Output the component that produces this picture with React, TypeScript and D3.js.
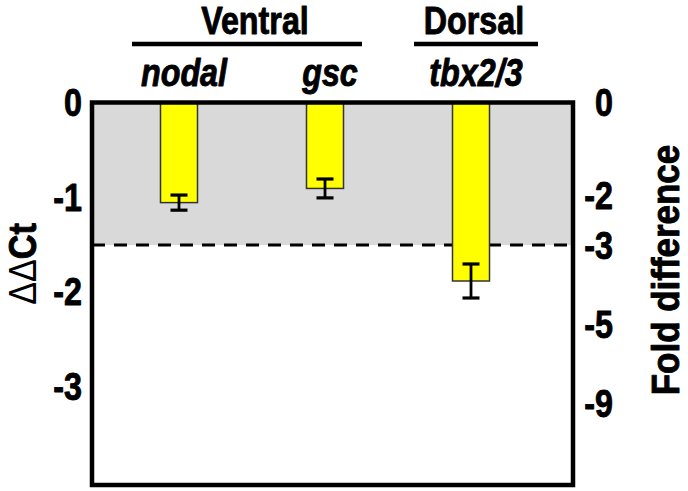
import React from "react";
import * as d3 from "d3";

// ---- data ----
const categories = ["nodal", "gsc", "tbx2/3"];
const meanDdct = [-1.06, -0.91, -1.89];
const errDdct = [0.08, 0.1, 0.18];
const leftTicks = [0, -1, -2, -3];
const foldLabels = ["0", "-2", "-3", "-5", "-9"];
const foldTickDdct = [0, -0.98, -1.51, -2.35, -3.18];
const thresholdDdct = -1.51;
const groupNames = ["Ventral", "Dorsal"];
const groupMembers = [["nodal", "gsc"], ["tbx2/3"]];
const rightTitle = "Fold difference";

// ---- layout ----
const W = 688;
const H = 491;
const frame = { left: 92, right: 573, top: 102.5, bottom: 485 };
const FONT = "'Liberation Sans', Arial, Helvetica, sans-serif";
const FS = 38;
const SQ = 0.85;
const groupPad = [
  [47, 37],
  [57, 67],
];

type TProps = {
  x: number;
  y: number;
  text?: string;
  anchor?: "start" | "middle" | "end";
  rotate?: number;
  sx?: number;
  italic?: boolean;
  size?: number;
  children?: React.ReactNode;
};

function CText({ x, y, text, anchor = "middle", rotate = 0, sx = SQ, italic = false, size = FS, children }: TProps) {
  return (
    <text
      transform={`translate(${x},${y}) rotate(${rotate}) scale(${sx},1)`}
      textAnchor={anchor}
      fontFamily={FONT}
      fontWeight="bold"
      fontStyle={italic ? "italic" : "normal"}
      fontSize={size}
      fill="#000"
      stroke="#000"
      strokeWidth={0.9}
      strokeLinejoin="round"
    >
      {children ?? text}
    </text>
  );
}

export default function App() {
  const x = d3
    .scaleBand<string>()
    .domain(categories)
    .range([160.5, 489.5])
    .paddingInner(1 - 37 / 146)
    .paddingOuter(0);
  const y = d3.scaleLinear().domain([0, -4.05]).range([frame.top, frame.bottom]);
  const bw = x.bandwidth();
  const cx = (c: string) => (x(c) as number) + bw / 2;
  const capW = 17;

  return (
    <svg width={W} height={H} style={{ position: "absolute", left: 0, top: 0, background: "#fff" }}>
      <rect x={0} y={0} width={W} height={H} fill="#fff" />
      {/* shaded region */}
      <rect
        x={frame.left}
        y={y(0)}
        width={frame.right - frame.left}
        height={y(thresholdDdct) - y(0)}
        fill="#d9d9d9"
      />
      {/* threshold dashed line */}
      <line
        x1={frame.left}
        x2={frame.right}
        y1={y(thresholdDdct)}
        y2={y(thresholdDdct)}
        stroke="#000"
        strokeWidth={3}
        strokeDasharray="13 9"
      />
      {/* bars */}
      {categories.map((c, i) => (
        <rect
          key={c}
          x={x(c)}
          y={y(0)}
          width={bw}
          height={y(meanDdct[i]) - y(0)}
          fill="#ffff00"
          stroke="#333"
          strokeWidth={1.5}
        />
      ))}
      {/* error bars */}
      {categories.map((c, i) => {
        const hi = y(meanDdct[i] + errDdct[i]);
        const lo = y(meanDdct[i] - errDdct[i]);
        const xc = cx(c);
        return (
          <g key={c} stroke="#000" strokeWidth={3.2}>
            <line x1={xc} x2={xc} y1={hi} y2={lo} strokeWidth={2.8} />
            <line x1={xc - capW / 2} x2={xc + capW / 2} y1={hi} y2={hi} />
            <line x1={xc - capW / 2} x2={xc + capW / 2} y1={lo} y2={lo} />
          </g>
        );
      })}
      {/* frame */}
      <rect
        x={frame.left}
        y={frame.top}
        width={frame.right - frame.left}
        height={frame.bottom - frame.top}
        fill="none"
        stroke="#000"
        strokeWidth={4.5}
      />
      {/* left ticks */}
      {leftTicks.map((t) => (
        <CText key={t} x={82} y={y(t) + FS * 0.36} anchor="end" text={t === 0 ? "0" : `-${Math.abs(t)}`} />
      ))}
      {/* right ticks */}
      {foldLabels.map((l, i) => (
        <CText key={l} x={613} y={y(foldTickDdct[i]) + FS * 0.36} anchor="end" text={l} />
      ))}
      {/* axis titles */}
      <CText x={36} y={264} rotate={-90} sx={0.9}>
        <tspan fontWeight="normal" strokeWidth={0}>ΔΔ</tspan>
        <tspan>Ct</tspan>
      </CText>
      <CText x={679} y={270} rotate={-90} sx={0.92} text={rightTitle} />
      {/* gene labels */}
      {categories.map((c) => (
        <CText key={c} x={cx(c) + 5} y={86} italic text={c} />
      ))}
      {/* group headers */}
      {groupNames.map((g, gi) => {
        const centers = groupMembers[gi].map(cx);
        const x0 = d3.min(centers)! - groupPad[gi][0];
        const x1 = d3.max(centers)! + groupPad[gi][1];
        const mid = d3.mean(centers)! + 3;
        return (
          <g key={g}>
            <line x1={x0} x2={x1} y1={44} y2={44} stroke="#000" strokeWidth={4.5} />
            <CText x={mid} y={34} text={g} />
          </g>
        );
      })}
    </svg>
  );
}
